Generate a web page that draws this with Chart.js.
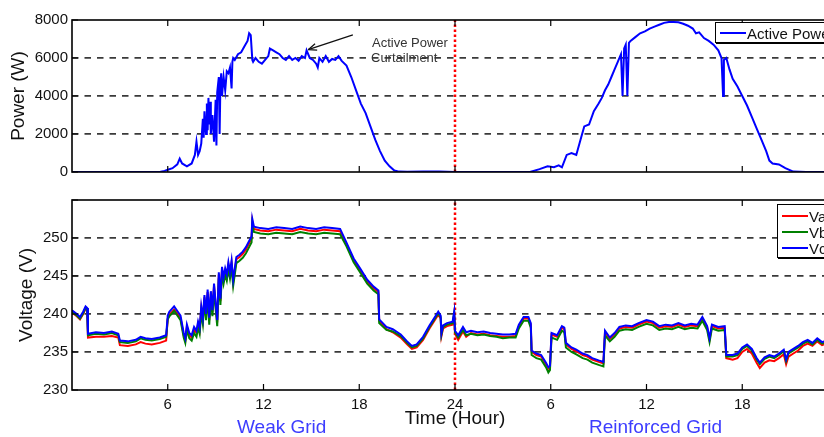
<!DOCTYPE html>
<html>
<head>
<meta charset="utf-8">
<script src="https://cdn.jsdelivr.net/npm/chart.js@4/dist/chart.umd.min.js"></script>
<style>
  html, body { margin:0; padding:0; background:#fff; width:824px; height:437px; overflow:hidden; }
  body { position:relative; font-family:"Liberation Sans", Arial, sans-serif; }
  canvas { position:absolute; left:0; }
  #c1 { top:0; }
  #c2 { top:185px; }
  .lab { position:absolute; white-space:nowrap; line-height:1; }
  .legend { position:absolute; background:#fff; border:1.5px solid #000; box-shadow:1px 1px 0 #000; }
  .li { position:absolute; left:4px; width:26px; height:0; }
  .lt { position:absolute; left:31px; font-size:15px; line-height:1; color:#111; }
</style>
</head>
<body>
<canvas id="c1" width="860" height="185"></canvas>
<canvas id="c2" width="860" height="252"></canvas>

<div class="lab" style="left:372px; top:36px; font-size:13px; color:#333;">Active Power</div>
<div class="lab" style="left:371px; top:51px; font-size:13px; color:#333;">Curtailment</div>

<div class="legend" style="left:715px; top:22px; width:140px; height:19px;">
  <div class="li" style="top:9px; border-top:2px solid #0000ff;"></div>
  <div class="lt" style="top:3px;">Active Power</div>
</div>
<div class="legend" style="left:777px; top:204px; width:80px; height:52px;">
  <div class="li" style="top:10px; border-top:2px solid #ff0000;"></div>
  <div class="lt" style="top:4px;">Va</div>
  <div class="li" style="top:26px; border-top:2px solid #008000;"></div>
  <div class="lt" style="top:20px;">Vb</div>
  <div class="li" style="top:42px; border-top:2px solid #0000ff;"></div>
  <div class="lt" style="top:36px;">Vc</div>
</div>

<div class="lab" style="left:237px; top:417px; font-size:19px; color:#3d3dff;">Weak Grid</div>
<div class="lab" style="left:589px; top:417px; font-size:19px; color:#3d3dff;">Reinforced Grid</div>

<script>
// ---------------- DATA ----------------
const xTickHours = [0, 6, 12, 18, 24, 30, 36, 42, 48];
const powerTicks = [0, 2000, 4000, 6000, 8000];
const voltageTicks = [230, 235, 240, 245, 250, 255];
const dividerHour = 24;

const powerHours = [0, 5.5, 5.8, 6.0, 6.3, 6.6, 6.75, 6.9, 7.2, 7.5, 7.7, 7.8, 7.9, 8.0, 8.1, 8.2, 8.25, 8.3, 8.4, 8.45, 8.5, 8.55, 8.6, 8.65, 8.7, 8.8, 8.9, 9.0, 9.05, 9.1, 9.2, 9.25, 9.3, 9.35, 9.4, 9.5, 9.6, 9.7, 9.8, 9.9, 10.0, 10.05, 10.1, 10.2, 10.4, 10.6, 10.8, 11.0, 11.1, 11.2, 11.3, 11.35, 11.5, 11.7, 11.9, 12.1, 12.3, 12.4, 12.6, 12.8, 13.0, 13.2, 13.4, 13.6, 13.8, 14.0, 14.2, 14.4, 14.6, 14.7, 14.9, 15.1, 15.3, 15.4, 15.5, 15.7, 15.9, 16.1, 16.3, 16.5, 16.7, 16.9, 17.2, 17.5, 17.8, 18.1, 18.4, 18.7, 19.0, 19.3, 19.6, 19.9, 20.2, 20.5, 21, 22, 23, 24,
  24.5, 28.7, 29.3, 29.8, 30.2, 30.5, 30.7, 31.0, 31.3, 31.6, 31.9, 32.1, 32.4, 32.7, 33.0, 33.2, 33.4, 33.6, 33.8, 34.0, 34.2, 34.4, 34.5, 34.6, 34.7, 34.8, 34.9, 35.0, 35.3, 35.6, 35.9, 36.2, 36.5, 36.8, 37.1, 37.4, 37.7, 38.0, 38.3, 38.6, 38.9, 39.1, 39.3, 39.6, 39.9, 40.2, 40.5, 40.7, 40.8, 40.85, 41.0, 41.2, 41.4, 41.7, 42.0, 42.3, 42.6, 42.9, 43.2, 43.5, 43.7, 43.9, 44.3, 44.7, 45.2, 46, 48];
const activePower = [0, 0, 60, 120, 200, 400, 700, 450, 300, 450, 900, 1600, 900, 1100, 1500, 2800, 1800, 3200, 2000, 3600, 2200, 3900, 2500, 3700, 2000, 3000, 1600, 3800, 1400, 4200, 5000, 2000, 4600, 5200, 4000, 5000, 4300, 5300, 5200, 5500, 4400, 5800, 6000, 5900, 6200, 6300, 6600, 6900, 7300, 7200, 5900, 5800, 6000, 5800, 5700, 5900, 6100, 6500, 6400, 6300, 6200, 6000, 5900, 6100, 5900, 6000, 5850, 6100, 6000, 6400, 6000, 5900, 5700, 5500, 6000, 5800, 6100, 5800, 5950, 5900, 6100, 5850, 5600, 5000, 4300, 3600, 3100, 2400, 1700, 1100, 600, 300, 80, 20, 10, 30, 20, 0,
  0, 0, 150, 300, 250, 350, 250, 900, 1000, 900, 1800, 2400, 2500, 3200, 3600, 3900, 4300, 4600, 5000, 5400, 5800, 6200, 4000, 6500, 6700, 4000, 6800, 6900, 7100, 7300, 7400, 7550, 7650, 7750, 7850, 7900, 7900, 7880, 7800, 7700, 7550, 7300, 7350, 7050, 6900, 6700, 6400, 6000, 4000, 5900, 6000, 5400, 4900, 4500, 4000, 3500, 2900, 2300, 1700, 1100, 600, 450, 400, 200, 20, 0, 0];

const voltageHours = [0, 0.3, 0.5, 0.7, 0.85, 0.95, 1.0, 1.5, 2.0, 2.5, 2.9, 3.0, 3.5, 4.0, 4.3, 4.6, 5.0, 5.5, 5.9, 6.0, 6.1, 6.4, 6.6, 6.8, 7.0, 7.1, 7.2, 7.35, 7.5, 7.65, 7.8, 7.9, 8.0, 8.1, 8.2, 8.3, 8.4, 8.5, 8.6, 8.7, 8.8, 8.9, 9.0, 9.1, 9.2, 9.3, 9.4, 9.5, 9.6, 9.7, 9.8, 9.9, 10.0, 10.1, 10.3, 10.5, 10.7, 10.9, 11.1, 11.25, 11.3, 11.4, 11.8, 12.3, 12.8, 13.3, 13.8, 14.3, 14.8, 15.3, 15.8, 16.3, 16.8, 17.2, 17.65, 18.05, 18.5, 18.9, 19.2, 19.25, 19.7, 20.1, 20.6, 21.0, 21.3, 21.6, 22.0, 22.4, 22.8, 22.95, 23.1, 23.15, 23.25, 23.5, 23.85, 23.95, 24.0,
  24.2, 24.5, 24.7, 25.0, 25.4, 25.8, 26.2, 26.6, 27.0, 27.4, 27.8, 28.0, 28.3, 28.6, 28.75, 28.8, 29.1, 29.4, 29.7, 29.85, 29.95, 30.05, 30.4, 30.7, 30.85, 30.95, 31.3, 31.6, 32.0, 32.3, 32.6, 33.0, 33.3, 33.4, 33.7, 34.0, 34.3, 34.7, 35.1, 35.5, 36.0, 36.4, 36.8, 37.2, 37.6, 38.0, 38.4, 38.8, 39.2, 39.5, 39.8, 39.95, 40.1, 40.5, 40.9, 41.0, 41.4, 41.7, 42.0, 42.3, 42.6, 42.9, 43.1, 43.4, 43.7, 44.0, 44.3, 44.6, 44.75, 44.9, 45.2, 45.5, 45.8, 46.1, 46.4, 46.7, 47.0, 47.4, 47.8, 48.0];

const voltageVa = [240.2, 239.7, 239.3, 240.0, 240.7, 240.5, 236.9, 237.0, 237.0, 237.1, 236.9, 235.9, 235.8, 236.0, 236.3, 236.1, 236.0, 236.2, 236.5, 239.4, 239.9, 240.6, 240.1, 239.5, 237.2, 236.5, 238.3, 237.2, 236.9, 238.0, 237.5, 238.7, 237.9, 240.7, 239.2, 242.2, 239.7, 242.9, 239.2, 242.7, 240.2, 243.7, 241.2, 238.9, 245.2, 241.7, 245.9, 244.5, 245.7, 244.9, 246.5, 245.2, 246.7, 244.2, 247.2, 247.5, 247.9, 248.5, 249.3, 249.9, 252.2, 251.2, 251.0, 250.9, 251.1, 251.0, 250.9, 251.2, 251.0, 250.9, 251.1, 251.0, 250.9, 249.2, 247.1, 245.8, 244.3, 243.4, 242.9, 239.1, 238.0, 237.6, 236.9, 236.0, 235.4, 235.6, 236.6, 238.1, 239.4, 239.9, 239.4, 237.1, 238.1, 238.4, 238.6, 239.9, 237.4,
  236.6, 237.7, 237.0, 237.5, 237.3, 237.4, 237.2, 237.1, 237.0, 237.0, 237.1, 238.4, 239.4, 239.4, 238.6, 235.0, 234.6, 234.4, 233.4, 232.8, 233.0, 237.3, 237.0, 238.2, 238.0, 236.0, 235.4, 235.1, 234.6, 234.4, 234.0, 233.7, 233.5, 237.6, 236.7, 237.3, 238.1, 238.3, 238.2, 238.6, 239.0, 238.8, 238.2, 238.4, 238.3, 238.6, 238.3, 238.5, 238.4, 239.4, 238.2, 236.6, 238.4, 238.1, 238.2, 234.2, 234.0, 234.2, 235.0, 235.4, 234.8, 233.6, 232.9, 233.6, 233.9, 233.8, 234.2, 234.7, 233.4, 234.4, 234.8, 235.2, 235.8, 236.1, 235.8, 236.4, 235.9, 236.2, 236.5, 236.6];

const voltageVb = [240.3, 239.8, 239.4, 240.1, 240.8, 240.6, 237.2, 237.4, 237.3, 237.5, 237.2, 236.3, 236.2, 236.4, 236.8, 236.6, 236.5, 236.7, 237.0, 239.3, 239.7, 240.4, 239.8, 239.2, 236.9, 236.2, 237.9, 236.8, 236.5, 237.5, 237.0, 238.2, 237.4, 240.2, 238.7, 241.7, 239.2, 242.4, 238.6, 242.2, 239.7, 243.2, 240.7, 238.4, 244.7, 241.2, 245.4, 244.0, 245.2, 244.4, 246.0, 244.7, 246.2, 243.7, 246.7, 247.0, 247.4, 248.0, 248.8, 249.4, 251.8, 250.8, 250.6, 250.5, 250.7, 250.6, 250.5, 250.8, 250.6, 250.5, 250.7, 250.6, 250.5, 248.9, 246.8, 245.5, 244.0, 243.1, 242.6, 238.8, 237.9, 237.7, 237.1, 236.2, 235.6, 235.8, 236.8, 238.3, 239.6, 240.1, 239.6, 237.3, 238.3, 238.6, 238.8, 240.1, 237.6,
  236.9, 237.9, 237.2, 237.4, 237.2, 237.3, 237.1, 237.0, 236.8, 236.9, 236.9, 238.1, 239.1, 239.1, 238.2, 234.6, 234.2, 234.0, 233.0, 232.3, 232.6, 236.9, 236.6, 237.8, 237.6, 235.6, 235.0, 234.7, 234.2, 234.0, 233.6, 233.3, 233.1, 237.2, 236.4, 237.0, 237.8, 238.0, 237.9, 238.3, 238.7, 238.5, 237.9, 238.1, 238.0, 238.3, 238.0, 238.2, 238.1, 239.1, 237.9, 236.3, 238.1, 237.8, 237.9, 234.4, 234.4, 234.6, 235.4, 235.8, 235.2, 234.0, 233.4, 234.1, 234.4, 234.2, 234.6, 235.1, 233.8, 234.8, 235.2, 235.6, 236.1, 236.4, 236.0, 236.6, 236.1, 236.4, 236.7, 236.8];

const voltageVc = [240.5, 240.0, 239.6, 240.3, 241.0, 240.8, 237.4, 237.6, 237.5, 237.7, 237.4, 236.5, 236.4, 236.6, 237.0, 236.8, 236.7, 236.9, 237.2, 239.8, 240.3, 241.0, 240.4, 239.8, 237.5, 236.8, 238.6, 237.5, 237.2, 238.3, 237.8, 239.0, 238.2, 241.0, 239.5, 242.5, 240.0, 243.2, 239.5, 243.0, 240.5, 244.0, 241.5, 239.2, 245.5, 242.0, 246.2, 244.8, 246.0, 245.2, 246.8, 245.5, 247.0, 244.5, 247.5, 247.8, 248.2, 248.8, 249.6, 250.2, 252.5, 251.5, 251.3, 251.2, 251.4, 251.3, 251.2, 251.5, 251.3, 251.2, 251.4, 251.3, 251.2, 249.4, 247.3, 246.0, 244.5, 243.6, 243.1, 239.3, 238.3, 238.0, 237.3, 236.4, 235.8, 236.0, 237.0, 238.5, 239.8, 240.3, 239.8, 237.5, 238.5, 238.8, 239.0, 240.3, 237.8,
  237.2, 238.3, 237.6, 237.8, 237.6, 237.7, 237.5, 237.4, 237.3, 237.3, 237.4, 238.6, 239.6, 239.6, 238.8, 235.2, 234.8, 234.6, 233.6, 233.0, 233.2, 237.5, 237.2, 238.4, 238.2, 236.2, 235.6, 235.3, 234.8, 234.6, 234.2, 233.9, 233.7, 237.8, 236.9, 237.5, 238.3, 238.5, 238.4, 238.8, 239.2, 239.0, 238.4, 238.6, 238.5, 238.8, 238.5, 238.7, 238.6, 239.6, 238.4, 236.8, 238.6, 238.3, 238.4, 234.6, 234.6, 234.8, 235.6, 236.0, 235.4, 234.2, 233.6, 234.3, 234.6, 234.4, 234.8, 235.3, 234.0, 235.0, 235.4, 235.8, 236.3, 236.6, 236.2, 236.8, 236.3, 236.6, 236.9, 237.0];

// ---------------- HELPERS ----------------
function pts(xs, ys) {
  const n = Math.min(xs.length, ys.length);
  const out = [];
  for (let i = 0; i < n; i++) out.push({ x: xs[i], y: ys[i] });
  return out;
}
const FONT = "'Liberation Sans', Arial, sans-serif";
const GRID_COLOR = '#3a3a3a';

function hourLabel(v) {
  if (v <= 0 || v >= 48) return '';
  return String(v > 24 ? v - 24 : v);
}

const framePlugin = {
  id: 'frame',
  afterDatasetsDraw(chart, args, opts) {
    const { ctx, chartArea: a, scales } = chart;
    ctx.save();
    if (opts.arrow) {
      const ar = opts.arrow;
      const x1 = scales.x.getPixelForValue(ar.from[0]), y1 = scales.y.getPixelForValue(ar.from[1]);
      const x2 = scales.x.getPixelForValue(ar.to[0]), y2 = scales.y.getPixelForValue(ar.to[1]);
      ctx.strokeStyle = '#111'; ctx.lineWidth = 1.3;
      ctx.beginPath(); ctx.moveTo(x1, y1); ctx.lineTo(x2, y2); ctx.stroke();
      const ang = Math.atan2(y2 - y1, x2 - x1), L = 9, W = 0.38;
      ctx.beginPath();
      ctx.moveTo(x2, y2);
      ctx.lineTo(x2 - L * Math.cos(ang - W), y2 - L * Math.sin(ang - W));
      ctx.moveTo(x2, y2);
      ctx.lineTo(x2 - L * Math.cos(ang + W), y2 - L * Math.sin(ang + W));
      ctx.stroke();
    }
    ctx.strokeStyle = '#000';
    ctx.lineWidth = 1.6;
    ctx.strokeRect(a.left, a.top, a.right - a.left, a.bottom - a.top);
    ctx.lineWidth = 1.2;
    ctx.beginPath();
    scales.x.ticks.forEach(t => {
      if (t.value <= 0 || t.value >= 48) return;
      const px = scales.x.getPixelForValue(t.value);
      ctx.moveTo(px, a.bottom); ctx.lineTo(px, a.bottom - 6);
      ctx.moveTo(px, a.top); ctx.lineTo(px, a.top + 6);
    });
    scales.y.ticks.forEach(t => {
      const py = scales.y.getPixelForValue(t.value);
      ctx.moveTo(a.left, py); ctx.lineTo(a.left + 6, py);
    });
    ctx.stroke();
    ctx.restore();
  }
};

function dividerLine(ymin, ymax) {
  return {
    label: 'divider',
    data: [{ x: dividerHour, y: ymin }, { x: dividerHour, y: ymax }],
    borderColor: '#ff0000',
    borderWidth: 2.5,
    borderDash: [2.5, 2.5],
    pointRadius: 0,
    fill: false
  };
}

function xScale(showLabels) {
  return {
    type: 'linear', min: 0, max: 48,
    afterBuildTicks: s => { s.ticks = xTickHours.map(v => ({ value: v })); },
    grid: { display: false, drawTicks: false },
    border: { display: false },
    ticks: {
      display: showLabels, padding: 6, color: '#111',
      font: { family: FONT, size: 15 },
      maxRotation: 0, autoSkip: false,
      callback: v => hourLabel(v)
    },
    title: showLabels ? {
      display: true, text: 'Time (Hour)', color: '#111',
      font: { family: FONT, size: 19 }, padding: { top: 0, bottom: 7 }
    } : { display: false },
    afterFit: s => { s.height = showLabels ? 47 : 11; }
  };
}

function gridColor(min, max) {
  return c => (c.tick.value === min || c.tick.value === max) ? 'rgba(0,0,0,0)' : GRID_COLOR;
}

// ---------------- TOP CHART: POWER ----------------
new Chart(document.getElementById('c1'), {
  type: 'line',
  data: {
    datasets: [
      { label: 'Active Power', data: pts(powerHours, activePower), borderColor: '#0000ff', borderWidth: 2, pointRadius: 0, tension: 0 },
      dividerLine(0, 8000)
    ]
  },
  options: {
    responsive: false, animation: false, devicePixelRatio: 1,
    layout: { padding: { top: 20, right: 22, left: 0, bottom: 0 } },
    plugins: { legend: { display: false }, tooltip: { enabled: false },
      frame: { arrow: { from: [17.6, 7220], to: [14.8, 6440] } } },
    scales: {
      x: xScale(false),
      y: {
        min: 0, max: 8000,
        afterBuildTicks: s => { s.ticks = powerTicks.map(v => ({ value: v })); },
        grid: { color: gridColor(0, 8000), lineWidth: 1.8, drawTicks: false },
        border: { display: false, dash: [6.5, 6] },
        ticks: { padding: 4, color: '#111', font: { family: FONT, size: 15 }, callback: v => String(v) },
        title: { display: true, text: 'Power (W)', color: '#111', font: { family: FONT, size: 19 }, padding: { top: 7, bottom: 0 } },
        afterFit: s => { s.width = 72; }
      }
    }
  },
  plugins: [framePlugin]
});

// ---------------- BOTTOM CHART: VOLTAGE ----------------
new Chart(document.getElementById('c2'), {
  type: 'line',
  data: {
    datasets: [
      { label: 'Vc', data: pts(voltageHours, voltageVc), borderColor: '#0000ff', borderWidth: 2, pointRadius: 0, tension: 0 },
      { label: 'Vb', data: pts(voltageHours, voltageVb), borderColor: '#008000', borderWidth: 2, pointRadius: 0, tension: 0 },
      { label: 'Va', data: pts(voltageHours, voltageVa), borderColor: '#ff0000', borderWidth: 2, pointRadius: 0, tension: 0 },
      dividerLine(230, 255)
    ]
  },
  options: {
    responsive: false, animation: false, devicePixelRatio: 1,
    layout: { padding: { top: 15, right: 22, left: 0, bottom: 0 } },
    plugins: { legend: { display: false }, tooltip: { enabled: false }, frame: {} },
    scales: {
      x: xScale(true),
      y: {
        min: 230, max: 255,
        afterBuildTicks: s => { s.ticks = voltageTicks.map(v => ({ value: v })); },
        grid: { color: gridColor(230, 255), lineWidth: 1.8, drawTicks: false },
        border: { display: false, dash: [6.5, 6] },
        ticks: { padding: 4, color: '#111', font: { family: FONT, size: 15 }, callback: v => v === 255 ? '' : String(v) },
        title: { display: true, text: 'Voltage (V)', color: '#111', font: { family: FONT, size: 19 }, padding: { top: 15, bottom: 0 } },
        afterFit: s => { s.width = 72; }
      }
    }
  },
  plugins: [framePlugin]
});
</script>
</body>
</html>
